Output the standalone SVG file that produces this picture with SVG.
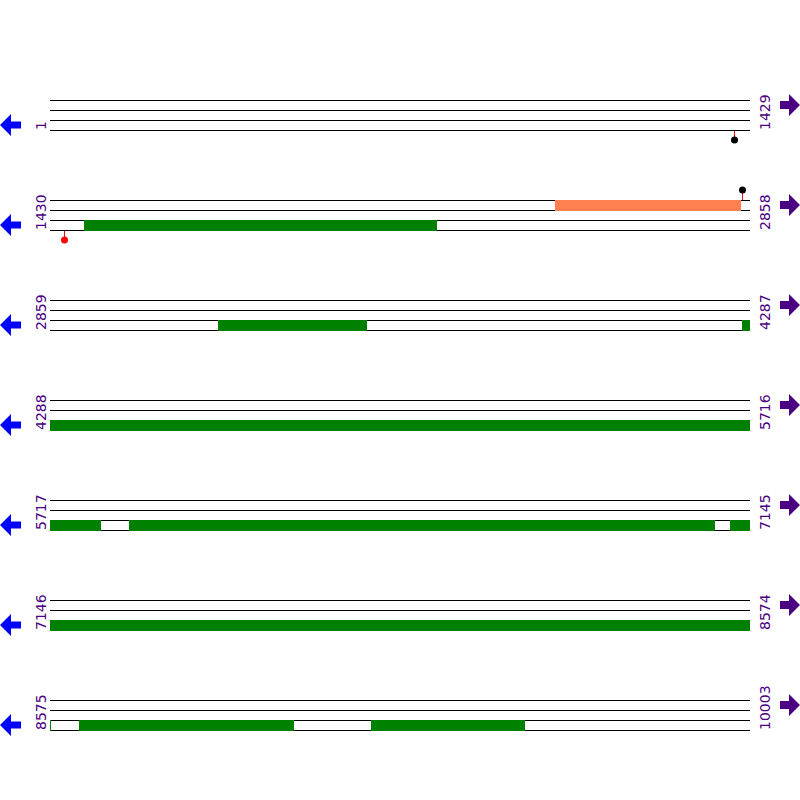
<svg xmlns="http://www.w3.org/2000/svg" width="800" height="800" viewBox="0 0 800 800">
<defs>
<style>
.ln{stroke:#000;stroke-width:1;fill:none}
.g{fill:#008000}
.o{fill:#FF7F50}
.lbl{font-family:"DejaVu Sans",sans-serif;font-size:14px;fill:#4B0082}
.la{fill:#0000FF}
.ra{fill:#4B0082}
.st{stroke:#FF0000;stroke-width:1}
</style>
<g id="tracks">
<path class="ln" d="M50 0.5H750M50 10.5H750M50 20.5H750M50 30.5H750"/>
<polygon class="la" points="0,25 11,14 11,21.5 21,21.5 21,28.5 11,28.5 11,36"/>
<polygon class="ra" points="800,5 789,-6 789,1 780,1 780,9 789,9 789,16"/>
</g>
<symbol id="s"/>
</defs>
<rect width="800" height="800" fill="#fff"/>

<g id="row1">
<use href="#tracks" y="100"/>
<text class="lbl" transform="translate(46,130) rotate(-90)">1</text>
<text class="lbl" transform="translate(770,130) rotate(-90)">1429</text>
</g>

<g id="row2">
<use href="#tracks" y="200"/>
<rect class="o" x="555" y="200" width="186" height="11"/>
<rect class="g" x="84" y="220" width="353" height="11"/>
<text class="lbl" transform="translate(46,230) rotate(-90)">1430</text>
<text class="lbl" transform="translate(770,230) rotate(-90)">2858</text>
</g>

<g id="row3">
<use href="#tracks" y="300"/>
<rect class="g" x="218" y="320" width="149" height="11"/>
<rect class="g" x="742" y="320" width="8" height="11"/>
<text class="lbl" transform="translate(46,330) rotate(-90)">2859</text>
<text class="lbl" transform="translate(770,330) rotate(-90)">4287</text>
</g>

<g id="row4">
<use href="#tracks" y="400"/>
<rect class="g" x="50" y="420" width="700" height="11"/>
<text class="lbl" transform="translate(46,430) rotate(-90)">4288</text>
<text class="lbl" transform="translate(770,430) rotate(-90)">5716</text>
</g>

<g id="row5">
<use href="#tracks" y="500"/>
<rect class="g" x="50" y="520" width="51" height="11"/>
<rect class="g" x="129" y="520" width="586" height="11"/>
<rect class="g" x="730" y="520" width="20" height="11"/>
<text class="lbl" transform="translate(46,530) rotate(-90)">5717</text>
<text class="lbl" transform="translate(770,530) rotate(-90)">7145</text>
</g>

<g id="row6">
<use href="#tracks" y="600"/>
<rect class="g" x="50" y="620" width="700" height="11"/>
<text class="lbl" transform="translate(46,630) rotate(-90)">7146</text>
<text class="lbl" transform="translate(770,630) rotate(-90)">8574</text>
</g>

<g id="row7">
<use href="#tracks" y="700"/>
<rect class="g" x="50" y="720" width="1" height="11"/>
<rect class="g" x="79" y="720" width="215" height="11"/>
<rect class="g" x="371" y="720" width="154" height="11"/>
<text class="lbl" transform="translate(46,730) rotate(-90)">8575</text>
<text class="lbl" transform="translate(770,730) rotate(-90)">10003</text>
</g>

<g id="connectors">
<line class="st" x1="734.5" y1="131" x2="734.5" y2="140"/>
<circle cx="734.5" cy="140" r="3.5" fill="#000"/>
<line class="st" x1="742.5" y1="190" x2="742.5" y2="200"/>
<circle cx="742.5" cy="190" r="3.5" fill="#000"/>
<line class="st" x1="64.5" y1="231" x2="64.5" y2="240"/>
<circle cx="64.5" cy="240" r="3.5" fill="#FF0000"/>
</g>
</svg>
